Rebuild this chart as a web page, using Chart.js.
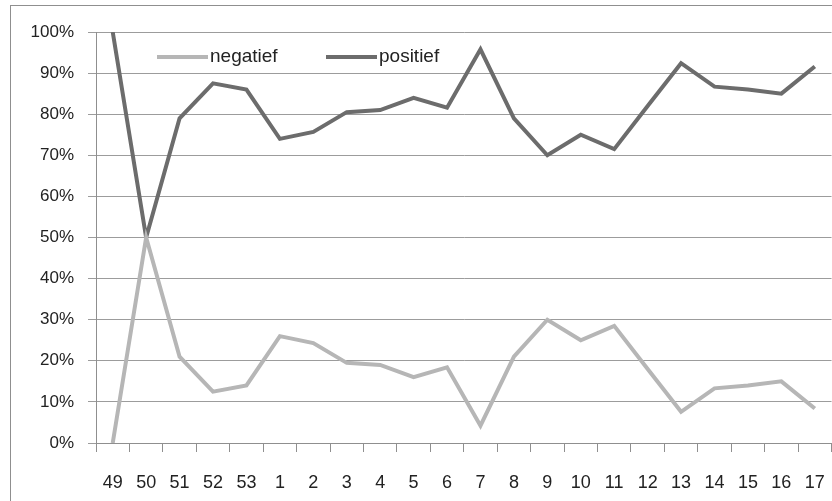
<!DOCTYPE html>
<html>
<head>
<meta charset="utf-8">
<script src="https://cdn.jsdelivr.net/npm/chart.js@4/dist/chart.umd.min.js"></script>
<style>
  html, body { margin: 0; padding: 0; background: #fff; overflow: hidden; }
  #wrap { width: 845px; height: 501px; }
</style>
</head>
<body>
<div id="wrap"><canvas id="c" width="845" height="501"></canvas></div>
<script>
const categories = ['49','50','51','52','53','1','2','3','4','5','6','7','8','9','10','11','12','13','14','15','16','17'];
const negatief = [0, 50, 21, 12.5, 14, 26, 24.3, 19.5, 19, 16, 18.4, 4.2, 21, 30, 25, 28.5, 18, 7.6, 13.3, 14, 15, 8.4];
const positief = [100, 50, 79, 87.5, 86, 74, 75.7, 80.5, 81, 84, 81.6, 95.8, 79, 70, 75, 71.5, 82, 92.4, 86.7, 86, 85, 91.6];
const seriesNames = ['negatief', 'positief'];
const seriesColors = ['#b6b6b6', '#6c6c6c'];

const frame = {
  id: 'frame',
  beforeDraw(chart) {
    const ctx = chart.ctx;
    ctx.save();
    ctx.fillStyle = '#fff';
    ctx.fillRect(0, 0, chart.width, chart.height);
    ctx.strokeStyle = '#8f8f8f';
    ctx.lineWidth = 1;
    ctx.strokeRect(10.5, 5.5, chart.width + 20, chart.height + 20);
    ctx.restore();
  }
};

const insideLegend = {
  id: 'insideLegend',
  afterDraw(chart) {
    const ctx = chart.ctx;
    const xs = [157, 326];
    const y = 57;
    ctx.save();
    chart.data.datasets.forEach((ds, i) => {
      ctx.strokeStyle = ds.borderColor;
      ctx.lineWidth = 4;
      ctx.beginPath();
      ctx.moveTo(xs[i], y);
      ctx.lineTo(xs[i] + 51, y);
      ctx.stroke();
      ctx.fillStyle = '#222';
      ctx.font = '19px "Liberation Sans", sans-serif';
      ctx.textBaseline = 'middle';
      ctx.textAlign = 'left';
      ctx.fillText(ds.label, xs[i] + 53, y);
    });
    ctx.restore();
  }
};

new Chart(document.getElementById('c'), {
  type: 'line',
  data: {
    labels: categories,
    datasets: [
      { label: seriesNames[0], data: negatief, borderColor: seriesColors[0], backgroundColor: seriesColors[0], borderWidth: 4, pointRadius: 0, tension: 0, fill: false },
      { label: seriesNames[1], data: positief, borderColor: seriesColors[1], backgroundColor: seriesColors[1], borderWidth: 4, pointRadius: 0, tension: 0, fill: false }
    ]
  },
  options: {
    responsive: false,
    animation: false,
    layout: { padding: { top: 32, right: 8, bottom: 0, left: 0 } },
    plugins: { legend: { display: false }, tooltip: { enabled: false } },
    scales: {
      x: {
        type: 'category',
        offset: true,
        grid: { display: true, offset: true, drawOnChartArea: false, drawTicks: true, tickLength: 9, color: '#8f8f8f' },
        border: { display: true, color: '#8f8f8f' },
        ticks: { color: '#222', font: { family: '"Liberation Sans", sans-serif', size: 18 }, padding: 20, maxRotation: 0, autoSkip: false },
        afterFit(scale) { scale.height = 58; }
      },
      y: {
        min: 0, max: 100,
        grid: { color: '#9c9c9c', tickLength: 8, drawTicks: true },
        border: { display: true, color: '#8f8f8f' },
        ticks: { stepSize: 10, color: '#222', padding: 14, font: { family: '"Liberation Sans", sans-serif', size: 17 }, callback: v => v + '%' },
        afterFit(scale) { scale.width = 96; }
      }
    }
  },
  plugins: [frame, insideLegend]
});
</script>
</body>
</html>
